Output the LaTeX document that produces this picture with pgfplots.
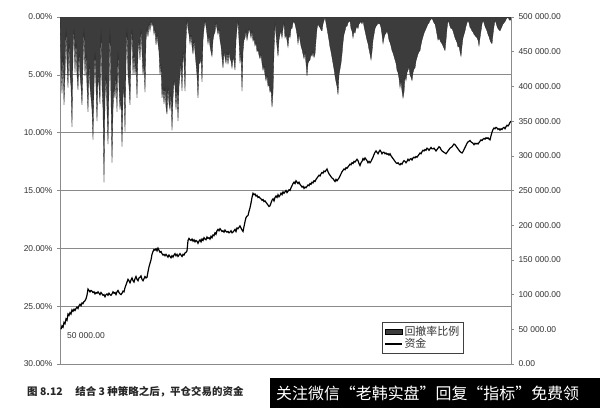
\documentclass[border=0pt]{standalone}
\usepackage{pgfplots}
\pgfplotsset{compat=1.18}
\usepackage{fontspec}
\setmainfont{Liberation Sans}
\newfontfamily\cjk{Noto Sans CJK SC}
\definecolor{ddfill}{HTML}{3C3C3C}
\definecolor{gridc}{HTML}{8A8A8A}
\definecolor{labc}{HTML}{333333}
\begin{document}
\begin{tikzpicture}[x=1bp,y=1bp]
\path[use as bounding box, fill=white] (0,0) rectangle (600,408);
\begin{axis}[
  at={(60bp,44bp)}, anchor=south west, scale only axis,
  width=451bp, height=347bp,
  xmin=60, xmax=511, ymin=0, ymax=30, y dir=reverse,
  xtick=\empty, ytick={0,5,10,15,20,25,30},
  yticklabels={0.00\%,5.00\%,10.00\%,15.00\%,20.00\%,25.00\%,30.00\%},
  ytick pos=left, tick align=outside, major tick length=3bp,
  ymajorgrids, grid style={gridc, line width=0.8bp},
  axis line style={gridc, line width=0.8bp},
  tick style={gridc, line width=0.6bp},
  yticklabel style={font=\fontsize{8.5}{10}\selectfont, text=labc, xshift=-1bp},
]
\addplot[fill=ddfill, draw=black!85, line width=0.3bp] coordinates {
(60,0)(61,4)(62,6.6)(63,3)(64,7.6)(65,5)(66,1)(67,4)(68,6.1)(69,2)(70,5)(71,6)(72,9.5)(73,3)(74,1)(75,4.8)(76,2)(77,5)(78,6.3)(79,3)
(80,5)(81,6)(82,7.6)(83,4)(84,1)(85,5.1)(86,3)(87,6)(88,8.2)(89,4)(90,6)(91,7)(92,8)(93,10.6)(94,6)(95,3)(96,6)(97,9)(98,5)(99,6)
(100,7.5)(101,1)(102,6)(103,8)(104,14.3)(105,7)(106,5)(107,8)(108,11)(109,6)(110,1)(111,7)(112,12.6)(113,8)(114,6)(115,7)(116,5)(117,8.2)(118,3)(119,6)
(120,8)(121,7)(122,11.2)(123,7)(124,6)(125,9.9)(126,4)(127,1)(128,5)(129,6)(130,7.6)(131,3)(132,1)(133,5)(134,3)(135,5)(136,4)(137,7)(138,3)(139,2)
(140,3.7)(141,1)(142,3)(143,5)(144,4)(145,6.5)(146,2)(147,1)(148,1.7)(149,0.5)(150,1.2)(151,0.3)(152,0.8)(153,0.5)(154,1.5)(155,1)(156,2.4)(157,1.5)(158,2.3)(159,3)
(160,5)(161,4)(162,7)(163,6)(164,7.5)(165,6)(166,7.8)(167,8.4)(168,6)(169,7.5)(170,8)(171,6.5)(172,9.8)(173,7)(174,5.5)(175,6)(176,8)(177,6)(178,9)(179,6)
(180,5)(181,4)(182,6.4)(183,3)(184,4)(185,6.4)(186,2)(187,0.2)(188,1)(189,1.5)(190,2.3)(191,1.5)(192,2.5)(193,3.2)(194,2)(195,3)(196,4)(197,5)(198,7)(199,4)
(200,4)(201,3.5)(202,5.6)(203,2)(204,1)(205,0.3)(206,0.8)(207,1.5)(208,2.3)(209,1.6)(210,2.5)(211,3)(212,3.4)(213,2)(214,1.5)(215,1.3)(216,0.5)(217,1)(218,1.5)(219,1)
(220,2)(221,2.5)(222,3.5)(223,4.4)(224,3)(225,3.5)(226,4)(227,3)(228,4.1)(229,3)(230,3.6)(231,3.8)(232,4.4)(233,3.5)(234,3.8)(235,4.6)(236,2)(237,1)(238,0.3)(239,2)
(240,4)(241,3)(242,6.4)(243,3)(244,2)(245,1.8)(246,1.2)(247,2)(248,1.5)(249,1)(250,1.3)(251,1.8)(252,1.2)(253,2.1)(254,1.8)(255,2.5)(256,2.2)(257,3)(258,2.8)(259,3.3)
(260,3.6)(261,3.2)(262,4)(263,4.6)(264,4.2)(265,5)(266,5.5)(267,5)(268,6)(269,5.8)(270,6.5)(271,6.2)(272,7.8)(273,6.5)(274,3)(275,0.5)(276,1.5)(277,2.5)(278,3.4)(279,2)
(280,1.5)(281,1.2)(282,1.8)(283,1)(284,0.5)(285,1.8)(286,1.5)(287,2)(288,2.6)(289,1.5)(290,1.8)(291,1)(292,1)(293,0.5)(294,0.4)(295,0.6)(296,1)(297,1.5)(298,2.3)(299,1.5)
(300,2)(301,2.5)(302,2.8)(303,3.2)(304,3.6)(305,3)(306,4)(307,5.1)(308,4)(309,3.8)(310,3.7)(311,3.2)(312,3.4)(313,3)(314,3.5)(315,3.2)(316,2)(317,1)(318,0.6)(319,0.8)
(320,0.9)(321,1.1)(322,1.2)(323,0.6)(324,0.3)(325,0)(326,0.5)(327,1)(328,1.5)(329,2)(330,2.6)(331,3)(332,3.5)(333,4)(334,4.5)(335,5.1)(336,5.6)(337,6)(338,6.7)(339,5)
(340,4.5)(341,4)(342,3.2)(343,2.2)(344,1.5)(345,1.2)(346,0.8)(347,0.8)(348,0.5)(349,0.4)(350,0.3)(351,1)(352,1.2)(353,1.8)(354,1.2)(355,1.4)(356,1)(357,0.8)(358,1)(359,0.6)
(360,0.5)(361,0.4)(362,0.6)(363,0.3)(364,0.8)(365,1.2)(366,1.6)(367,2)(368,2.3)(369,2.8)(370,3.2)(371,3.7)(372,3)(373,2)(374,1.5)(375,1)(376,0.8)(377,0.7)(378,0.5)(379,0.6)
(380,0.6)(381,0.9)(382,1.5)(383,2.3)(384,1.8)(385,1.5)(386,1.4)(387,1.2)(388,1.5)(389,2)(390,2.2)(391,2.5)(392,2.9)(393,3.1)(394,3.4)(395,3.7)(396,4)(397,4.6)(398,4.8)(399,5.3)
(400,6.1)(401,5.5)(402,6.4)(403,7)(404,6.5)(405,5.1)(406,5.5)(407,4.8)(408,4.6)(409,4.3)(410,5)(411,5.2)(412,5.5)(413,4.8)(414,4.5)(415,4.4)(416,3.8)(417,3.5)(418,3.2)(419,3)
(420,2.9)(421,2.4)(422,2)(423,1.7)(424,1.4)(425,1.2)(426,1)(427,0.8)(428,0.6)(429,0.5)(430,0.3)(431,0.2)(432,0.1)(433,0.3)(434,0.5)(435,0.6)(436,1)(437,1.5)(438,2)(439,1.8)
(440,2)(441,2.2)(442,2.3)(443,2.5)(444,2.7)(445,2.9)(446,2)(447,1)(448,0.3)(449,0.5)(450,0.8)(451,1)(452,1)(453,1.2)(454,1.5)(455,1.8)(456,2)(457,2.2)(458,2.6)(459,2.5)
(460,3)(461,3.4)(462,2.5)(463,1.8)(464,1.5)(465,1.2)(466,0.8)(467,0.5)(468,0.3)(469,0.5)(470,0.9)(471,1)(472,1.2)(473,1.3)(474,1.5)(475,1.6)(476,1.7)(477,1.8)(478,2)(479,2.5)
(480,1.8)(481,1.2)(482,0.6)(483,0.3)(484,0.5)(485,0.8)(486,1)(487,1.2)(488,1.5)(489,1.7)(490,2)(491,2.2)(492,2.3)(493,1.5)(494,0.8)(495,0.3)(496,0.5)(497,0.8)(498,1)(499,1.1)
(500,1.2)(501,1)(502,0.8)(503,0.6)(504,0.5)(505,0.4)(506,0.2)(507,0.1)(508,0)(509,0.2)(510,0.3)(511,0.2)
} \closedcycle;
\end{axis}
\begin{axis}[
  at={(60bp,44bp)}, anchor=south west, scale only axis,
  width=451bp, height=347bp,
  xmin=60, xmax=511, ymin=0, ymax=500000,
  hide x axis, axis y line*=right, scaled y ticks=false,
  ytick={0,50000,100000,150000,200000,250000,300000,350000,400000,450000,500000},
  yticklabels={0.00,50 000.00,100 000.00,150 000.00,200 000.00,250 000.00,300 000.00,350 000.00,400 000.00,450 000.00,500 000.00},
  tick align=outside, major tick length=3bp,
  axis line style={gridc, line width=0.8bp},
  tick style={gridc, line width=0.6bp},
  yticklabel style={font=\fontsize{8.5}{10}\selectfont, text=labc, xshift=1bp},
  legend style={at={(0.714,0.121)}, anchor=north west, draw=black!75, line width=0.6bp,
     font=\cjk\fontsize{11}{12}\selectfont, text=labc, row sep=-2.5bp, inner sep=2bp,
     cells={anchor=west}},
  legend cell align=left,
]
\addlegendimage{area legend, fill=ddfill, draw=black}
\addlegendentry{回撤率比例}
\addplot[black, line width=1.2bp] coordinates {
(61,50000)(62,55000)(63,53000)(64,60000)(65,58000)(66,65000)(67,63000)(68,72000)(69,70000)(70,74000)(71,72000)(72,78000)(73,76000)(74,79000)(75,77000)(76,80000)(77,82000)(78,80000)(79,84000)
(80,86000)(81,84000)(82,88000)(83,87000)(84,90000)(85,91000)(86,94000)(87,99000)(88,108000)(89,106000)(90,104000)(91,106000)(92,105000)(93,103000)(94,104000)(95,101000)(96,103000)(97,102000)(98,104000)(99,102000)
(100,100000)(101,103000)(102,101000)(103,99000)(104,100000)(105,97000)(106,100000)(107,101000)(108,99000)(109,102000)(110,100000)(111,99000)(112,101000)(113,104000)(114,102000)(115,103000)(116,100000)(117,104000)(118,106000)(119,103000)
(120,101000)(121,100000)(122,102000)(123,105000)(124,104000)(125,110000)(126,114000)(127,118000)(128,122000)(129,120000)(130,117000)(131,121000)(132,124000)(133,120000)(134,118000)(135,123000)(136,126000)(137,122000)(138,120000)(139,124000)
(140,125000)(141,127000)(142,122000)(143,120000)(144,123000)(145,126000)(146,124000)(147,125000)(148,133000)(149,140000)(150,145000)(151,150000)(152,158000)(153,162000)(154,165000)(155,164000)(156,166000)(157,163000)(158,167000)(159,164000)
(160,161000)(161,162000)(162,159000)(163,157000)(164,158000)(165,156000)(166,158000)(167,156000)(168,154000)(169,157000)(170,155000)(171,153000)(172,156000)(173,154000)(174,157000)(175,159000)(176,156000)(177,158000)(178,155000)(179,157000)
(180,159000)(181,157000)(182,155000)(183,158000)(184,157000)(185,160000)(186,161000)(187,163000)(188,178000)(189,181000)(190,179000)(191,178000)(192,180000)(193,177000)(194,179000)(195,176000)(196,178000)(197,177000)(198,174000)(199,177000)
(200,179000)(201,176000)(202,180000)(203,178000)(204,182000)(205,180000)(206,179000)(207,183000)(208,181000)(209,182000)(210,180000)(211,184000)(212,182000)(213,186000)(214,185000)(215,189000)(216,187000)(217,192000)(218,194000)(219,192000)
(220,195000)(221,193000)(222,191000)(223,192000)(224,190000)(225,193000)(226,191000)(227,190000)(228,191000)(229,189000)(230,190000)(231,192000)(232,189000)(233,190000)(234,192000)(235,194000)(236,191000)(237,196000)(238,195000)(239,197000)
(240,199000)(241,196000)(242,193000)(243,191000)(244,198000)(245,205000)(246,211000)(247,213000)(248,214000)(249,220000)(250,225000)(251,232000)(252,240000)(253,246000)(254,244000)(255,245000)(256,242000)(257,243000)(258,240000)(259,241000)
(260,239000)(261,238000)(262,236000)(263,237000)(264,234000)(265,235000)(266,233000)(267,231000)(268,229000)(269,227000)(270,228000)(271,232000)(272,236000)(273,238000)(274,235000)(275,240000)(276,242000)(277,240000)(278,244000)(279,241000)
(280,243000)(281,246000)(282,244000)(283,248000)(284,246000)(285,248000)(286,250000)(287,247000)(288,249000)(289,251000)(290,250000)(291,254000)(292,257000)(293,260000)(294,262000)(295,260000)(296,264000)(297,262000)(298,260000)(299,262000)
(300,259000)(301,257000)(302,255000)(303,256000)(304,253000)(305,255000)(306,254000)(307,256000)(308,258000)(309,257000)(310,260000)(311,259000)(312,262000)(313,261000)(314,264000)(315,263000)(316,266000)(317,268000)(318,270000)(319,272000)
(320,271000)(321,274000)(322,276000)(323,275000)(324,278000)(325,277000)(326,279000)(327,281000)(328,277000)(329,274000)(330,272000)(331,270000)(332,268000)(333,267000)(334,265000)(335,263000)(336,266000)(337,264000)(338,266000)(339,268000)
(340,271000)(341,274000)(342,277000)(343,279000)(344,281000)(345,280000)(346,283000)(347,282000)(348,284000)(349,286000)(350,288000)(351,287000)(352,290000)(353,289000)(354,292000)(355,291000)(356,293000)(357,295000)(358,293000)(359,289000)
(360,286000)(361,290000)(362,292000)(363,296000)(364,294000)(365,297000)(366,295000)(367,293000)(368,290000)(369,292000)(370,290000)(371,292000)(372,295000)(373,298000)(374,302000)(375,305000)(376,307000)(377,305000)(378,303000)(379,306000)
(380,308000)(381,306000)(382,303000)(383,305000)(384,305000)(385,303000)(386,304000)(387,302000)(388,303000)(389,301000)(390,303000)(391,300000)(392,298000)(393,296000)(394,294000)(395,292000)(396,290000)(397,289000)(398,290000)(399,288000)
(400,287000)(401,289000)(402,288000)(403,291000)(404,293000)(405,292000)(406,290000)(407,292000)(408,295000)(409,293000)(410,295000)(411,296000)(412,294000)(413,297000)(414,298000)(415,297000)(416,299000)(417,298000)(418,300000)(419,302000)
(420,304000)(421,303000)(422,306000)(423,308000)(424,307000)(425,309000)(426,308000)(427,311000)(428,310000)(429,308000)(430,310000)(431,312000)(432,310000)(433,310000)(434,311000)(435,309000)(436,307000)(437,309000)(438,311000)(439,313000)
(440,312000)(441,309000)(442,307000)(443,306000)(444,305000)(445,304000)(446,303000)(447,305000)(448,307000)(449,309000)(450,311000)(451,312000)(452,313000)(453,315000)(454,317000)(455,316000)(456,314000)(457,312000)(458,310000)(459,308000)
(460,306000)(461,305000)(462,304000)(463,306000)(464,309000)(465,312000)(466,315000)(467,318000)(468,320000)(469,321000)(470,322000)(471,320000)(472,319000)(473,318000)(474,316000)(475,318000)(476,317000)(477,318000)(478,317000)(479,319000)
(480,321000)(481,323000)(482,322000)(483,324000)(484,325000)(485,324000)(486,326000)(487,325000)(488,326000)(489,324000)(490,323000)(491,329000)(492,334000)(493,338000)(494,340000)(495,339000)(496,341000)(497,340000)(498,338000)(499,339000)
(500,337000)(501,339000)(502,338000)(503,340000)(504,341000)(505,339000)(506,342000)(507,344000)(508,343000)(509,345000)(510,348000)(511,350000)
};
\addlegendentry{资金}
\end{axis}
\node[anchor=west, font=\fontsize{8.5}{10}\selectfont, text=labc, inner sep=0] at (67,72) {50 000.00};
\node[anchor=west, font=\cjk\bfseries\fontsize{10.5}{12}\selectfont, text=black!85, inner sep=0] at (27,16) {图 8.12\hspace{1.2em}结合 3 种策略之后，平仓交易的资金};
\fill[black] (270,0) rectangle (600,30);
\node[anchor=west, font=\cjk\fontsize{16}{18}\selectfont, text=white, inner sep=0] at (276,15) {关注微信“老韩实盘”回复“指标”免费领};
\end{tikzpicture}
\end{document}
